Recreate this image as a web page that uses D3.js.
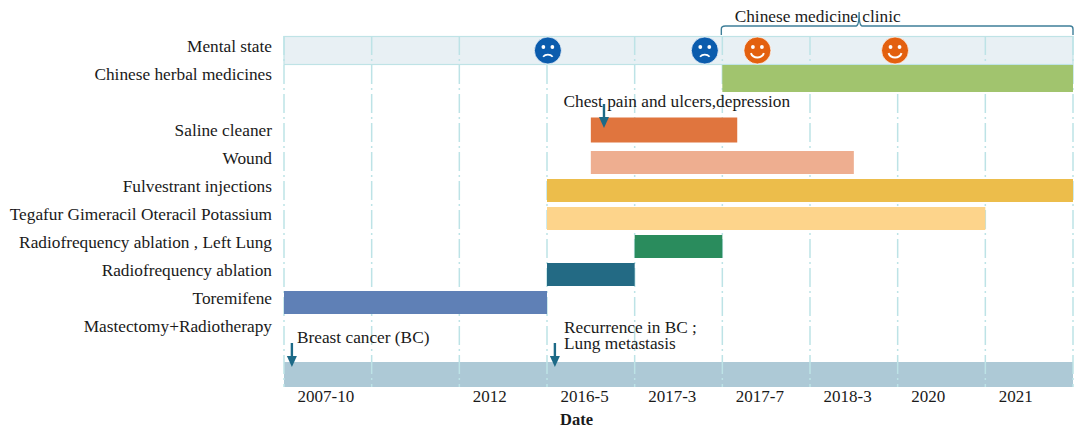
<!DOCTYPE html>
<html lang="en">
  <head>
    <meta charset="utf-8" />
    <style>
      html, body { margin: 0; padding: 0; background: #fff; }
      svg { display: block; }
      text { font-family: "Liberation Serif", serif; font-size: 17.3px; fill: #1a1a1a; }
    </style>
  </head>
  <body>
    <svg id="chart" width="1084" height="438"></svg>
    <script src="https://d3js.org/d3.v7.min.js"></script>
    <script>
      const rowNames = [
        "Mental state",
        "Chinese herbal medicines",
        " ",
        "Saline cleaner",
        "Wound",
        "Fulvestrant injections",
        "Tegafur Gimeracil Oteracil Potassium",
        "Radiofrequency ablation , Left Lung",
        "Radiofrequency ablation",
        "Toremifene",
        "Mastectomy+Radiotherapy"
      ];
      const dateLabels = ["2007-10", "", "2012", "2016-5", "2017-3", "2017-7", "2018-3", "2020", "2021"];

      // bars, start/end in date periods (0 = left edge of 2007-10)
      const barRows = ["Chinese herbal medicines", "Saline cleaner", "Wound", "Fulvestrant injections", "Tegafur Gimeracil Oteracil Potassium", "Radiofrequency ablation , Left Lung", "Radiofrequency ablation", "Toremifene"];
      const barStarts = [5, 3.5, 3.5, 3, 3, 4, 3, 0];
      const barEnds = [9, 5.17, 6.5, 9, 8, 5, 4, 3];
      const barColors = ["#a1c46e", "#e0753e", "#eeae90", "#ecbd4b", "#fdd48b", "#2a8c5d", "#236a84", "#5f80b6"];

      const moodPositions = [3.01, 4.8, 5.4, 6.97];
      const moodKinds = ["sad", "sad", "happy", "happy"];
      const moodColors = { sad: "#0b5cad", happy: "#e3600f" };

      const width = 1084;
      const height = 438;
      const left = 284;
      const right = 1073;

      const svg = d3.select("#chart");

      const x = d3.scaleLinear().domain([0, 9]).range([left, right]);
      const y = d3.scaleBand().domain(rowNames).range([36.5, 344.5]);

      const timelineTop = 362;
      const timelineBottom = 387;

      // pale mental state strip
      svg.append("rect")
        .attr("x", x(0))
        .attr("y", y("Mental state"))
        .attr("width", x(9) - x(0))
        .attr("height", y.bandwidth())
        .attr("fill", "#e8f0f4")
        .attr("stroke", "#bfe3e6")
        .attr("stroke-width", 1.2);

      // timeline strip at the bottom
      svg.append("rect")
        .attr("x", x(0))
        .attr("y", timelineTop)
        .attr("width", x(9) - x(0))
        .attr("height", timelineBottom - timelineTop)
        .attr("fill", "#adc9d6");

      // dash-dot grid
      svg.append("g")
        .selectAll("line")
        .data(d3.range(0, 10))
        .join("line")
        .attr("x1", d => x(d))
        .attr("x2", d => x(d))
        .attr("y1", 36)
        .attr("y2", timelineBottom)
        .attr("stroke", "#bde3e6")
        .attr("stroke-width", 1.5)
        .attr("stroke-dasharray", "19 4 2 4");

      // bars
      svg.append("g")
        .selectAll("rect")
        .data(barRows)
        .join("rect")
        .attr("x", (d, i) => x(barStarts[i]))
        .attr("width", (d, i) => x(barEnds[i]) - x(barStarts[i]))
        .attr("y", d => {
          if (d === "Chinese herbal medicines") return y(d) + 0.5;
          if (d === "Saline cleaner") return y(d) - 3;
          return y(d) + 2.5;
        })
        .attr("height", d => {
          if (d === "Chinese herbal medicines") return 27;
          if (d === "Saline cleaner") return 25;
          return 23;
        })
        .attr("fill", (d, i) => barColors[i]);

      // row labels
      const yAxis = svg.append("g")
        .attr("transform", `translate(${left - 12},0)`)
        .call(d3.axisLeft(y).tickSize(0).tickPadding(0));
      yAxis.select(".domain").remove();
      yAxis.selectAll("text")
        .attr("dy", null)
        .attr("y", 1.5)
        .style("font-family", '"Liberation Serif", serif')
        .style("font-size", "17.3px");

      // date labels, set at the start of each period
      const xAxis = svg.append("g")
        .attr("transform", `translate(0,${timelineBottom})`)
        .call(d3.axisBottom(x).tickValues(d3.range(0, 9)).tickFormat(i => dateLabels[i]).tickSize(0));
      xAxis.select(".domain").remove();
      xAxis.selectAll("text")
        .attr("text-anchor", "start")
        .attr("dy", null)
        .attr("x", 13)
        .attr("y", 15)
        .style("font-family", '"Liberation Serif", serif')
        .style("font-size", "17px");

      svg.append("text")
        .attr("x", 576.5)
        .attr("y", 425)
        .attr("text-anchor", "middle")
        .attr("font-weight", "bold")
        .style("font-size", "16.5px")
        .text("Date");

      // mood faces
      const moodY = y("Mental state") + y.bandwidth() / 2;
      const mood = svg.append("g")
        .selectAll("g")
        .data(moodPositions)
        .join("g")
        .attr("transform", d => `translate(${x(d)},${moodY})`);
      mood.append("circle")
        .attr("r", 13.5)
        .attr("fill", (d, i) => moodColors[moodKinds[i]])
        .attr("stroke", "#fff")
        .attr("stroke-opacity", 0.7);
      [-4.5, 4.5].forEach(ex => {
        mood.append("circle")
          .attr("cx", ex)
          .attr("cy", -3.5)
          .attr("r", 1.9)
          .attr("fill", "#fff");
      });
      const smile = d3.arc().innerRadius(6).outerRadius(8)
        .startAngle(Math.PI * 0.62).endAngle(Math.PI * 1.38);
      const frown = d3.arc().innerRadius(5.5).outerRadius(7.3)
        .startAngle(-Math.PI * 0.27).endAngle(Math.PI * 0.27);
      mood.append("path")
        .attr("d", (d, i) => moodKinds[i] === "happy" ? smile() : frown())
        .attr("transform", (d, i) => moodKinds[i] === "happy" ? "translate(0,0)" : "translate(0,10.5)")
        .attr("fill", "#fff");

      // arrows
      const arrowColor = "#1d6a87";
      const arrowDefs = [
        { at: 0.09, top: 343, tip: 367 },
        { at: 3.09, top: 343, tip: 367 },
        { at: 3.65, top: 104, tip: 128 }
      ];
      const arrows = svg.append("g")
        .selectAll("g")
        .data(arrowDefs)
        .join("g")
        .attr("transform", d => `translate(${x(d.at)},0)`);
      arrows.append("line")
        .attr("y1", d => d.top)
        .attr("y2", d => d.tip - 10)
        .attr("stroke", arrowColor)
        .attr("stroke-width", 2.4);
      arrows.append("path")
        .attr("d", d => `M-5,${d.tip - 11}L5,${d.tip - 11}L0,${d.tip}Z`)
        .attr("fill", arrowColor);

      // notes
      const noteTexts = ["Breast cancer (BC)", "Recurrence in BC ;", "Lung metastasis", "Chest pain and ulcers,depression", "Chinese medicine clinic"];
      const noteX = [297, 564, 564, 563.5, 734.7];
      const noteY = [343, 333, 349, 107, 22];
      svg.append("g")
        .selectAll("text")
        .data(noteTexts)
        .join("text")
        .attr("x", (d, i) => noteX[i])
        .attr("y", (d, i) => noteY[i])
        .text(d => d);

      // clinic brace
      const mid = x(6.56);
      svg.append("path")
        .attr("d", `M${x(5) - 1},35 V29 Q${x(5) - 1},26 ${x(5) + 3},26 H${mid - 3} Q${mid},26 ${mid},12 Q${mid},26 ${mid + 3},26 H${x(9) - 3} Q${x(9)},26 ${x(9)},29 V35`)
        .attr("fill", "none")
        .attr("stroke", "#3f7f99")
        .attr("stroke-width", 1.4);
    </script>
  </body>
</html>
